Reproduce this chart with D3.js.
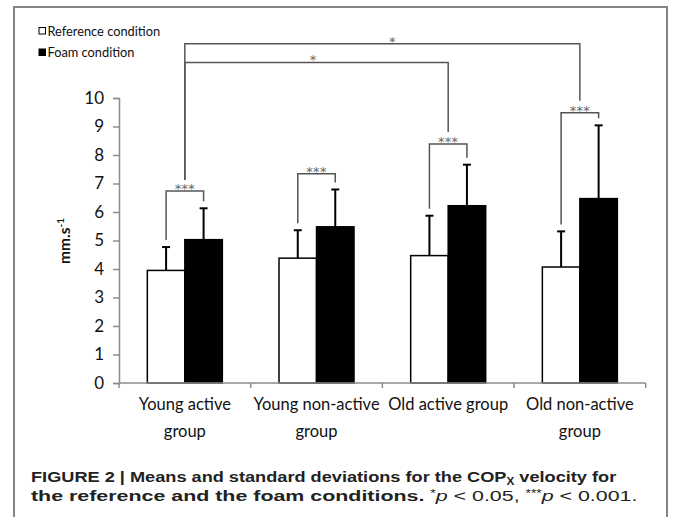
<!DOCTYPE html>
<html>
<head>
<meta charset="utf-8">
<script src="https://cdn.jsdelivr.net/npm/d3@7"></script>
<style>
  html, body { margin: 0; padding: 0; background: #fff; }
  svg { display: block; }
</style>
</head>
<body>
<svg id="chart" width="673" height="517"></svg>
<script>
// ---------- data ----------
const categories = ["Young active group", "Young non-active group", "Old active group", "Old non-active group"];
const categoryLabelLines = [["Young active", "group"], ["Young non-active", "group"], ["Old active group"], ["Old non-active", "group"]];
const seriesNames = ["Reference condition", "Foam condition"];
const referenceMeans = [3.95, 4.38, 4.47, 4.07];
const referenceSD = [0.82, 0.98, 1.40, 1.25];
const foamMeans = [5.03, 5.48, 6.22, 6.47];
const foamSD = [1.10, 1.31, 1.44, 2.57];
const yTicks = [0, 1, 2, 3, 4, 5, 6, 7, 8, 9, 10];
const yLabel = "mm.s";
const yLabelSup = "-1";
// within-group comparisons (reference vs foam), level in data units
const pairStars = ["***", "***", "***", "***"];
const pairLevels = [6.74, 7.34, 8.39, 9.48];
// between-group comparisons
const groupComparisons = [
  { from: 0, to: 3, level: 11.9, label: "*" },
  { from: 0, to: 2, level: 11.25, label: "*" }
];

// ---------- layout ----------
const svg = d3.select("#chart");
const y = d3.scaleLinear().domain([0, 10]).range([383, 98]);
const x = d3.scaleBand().domain(categories).range([119, 645.7]).paddingInner(0).paddingOuter(0);
const bw = x.bandwidth();
const inner = d3.scaleBand().domain(seriesNames).range([bw / 2 - 37.5, bw / 2 + 37.5]);
const barW = inner.bandwidth();

// frame
svg.append("path")
  .attr("d", "M14,520V7H667V520")
  .attr("fill", "none").attr("stroke", "#858585").attr("stroke-width", 2);

// legend
const legend = svg.append("g");
seriesNames.forEach((s, i) => {
  const gy = 27.5 + i * 21.5;
  legend.append("rect").attr("x", 39).attr("y", gy).attr("width", 6.5).attr("height", 6.5)
    .attr("fill", i === 0 ? "#fff" : "#000").attr("stroke", "#000").attr("stroke-width", 1);
  legend.append("text").attr("x", 47.5).attr("y", gy + 8)
    .attr("font-family", "Lato, sans-serif").attr("font-size", 12.8).attr("fill", "#111")
    .text(s);
});

// y axis
const yAxis = svg.append("g").attr("transform", "translate(119,0)")
  .call(d3.axisLeft(y).tickValues(yTicks).tickFormat(d3.format("d")).tickSize(6).tickPadding(9));
yAxis.select(".domain").attr("stroke", "#8c8c8c").attr("stroke-width", 1.5);
yAxis.selectAll(".tick line").attr("stroke", "#8c8c8c").attr("stroke-width", 1.5);
yAxis.selectAll(".tick text").attr("font-family", "Lato, sans-serif").attr("font-size", 17).attr("fill", "#111");

// y label
const yl = svg.append("text")
  .attr("transform", "translate(70,241) rotate(-90)")
  .attr("text-anchor", "middle")
  .attr("font-family", "Lato, sans-serif").attr("font-weight", "bold").attr("font-size", 15.5).attr("fill", "#111");
yl.append("tspan").text(yLabel);
yl.append("tspan").attr("font-size", 10).attr("dy", -6).text(yLabelSup);

// bars
const groups = svg.append("g").selectAll("g").data(categories).join("g")
  .attr("transform", d => `translate(${x(d)},0)`);

const seriesData = [
  { name: seriesNames[0], means: referenceMeans, sd: referenceSD, fill: "#fff" },
  { name: seriesNames[1], means: foamMeans, sd: foamSD, fill: "#000" }
];

groups.each(function (cat, i) {
  const g = d3.select(this);
  seriesData.forEach(s => {
    const bx = inner(s.name);
    const m = s.means[i], e = s.means[i] + s.sd[i];
    const cx = bx + barW / 2;
    g.append("line").attr("x1", cx).attr("x2", cx).attr("y1", y(m)).attr("y2", y(e))
      .attr("stroke", "#000").attr("stroke-width", 2);
    g.append("line").attr("x1", cx - 4).attr("x2", cx + 4).attr("y1", y(e)).attr("y2", y(e))
      .attr("stroke", "#000").attr("stroke-width", 2);
    g.append("rect").attr("x", bx).attr("y", y(m)).attr("width", barW).attr("height", y(0) - y(m))
      .attr("fill", s.fill).attr("stroke", "#000").attr("stroke-width", 1.5);
  });
});

// x axis
const xa = svg.append("g");
xa.append("line").attr("x1", x.range()[0]).attr("x2", x.range()[1]).attr("y1", y(0)).attr("y2", y(0))
  .attr("stroke", "#8c8c8c").attr("stroke-width", 1.5);
const bounds = categories.map(c => x(c)).concat([x.range()[1]]);
xa.selectAll("line.tk").data(bounds).join("line").attr("class", "tk")
  .attr("x1", d => d).attr("x2", d => d).attr("y1", y(0)).attr("y2", y(0) + 5)
  .attr("stroke", "#8c8c8c").attr("stroke-width", 1.5);
categories.forEach((c, i) => {
  const t = xa.append("text").attr("text-anchor", "middle")
    .attr("font-family", "Lato, sans-serif").attr("font-size", 16.5).attr("fill", "#111");
  categoryLabelLines[i].forEach((ln, j) => {
    t.append("tspan").attr("x", x(c) + bw / 2).attr("y", 410 + j * 27).text(ln);
  });
});

// pair brackets
const bracketColor = "#555";
const starFont = "DejaVu Sans, sans-serif";
const pairTop = [];
categories.forEach((c, i) => {
  const x1 = x(c) + inner(seriesNames[0]) + barW / 2;
  const x2 = x(c) + inner(seriesNames[1]) + barW / 2;
  const top = y(pairLevels[i]);
  const l1 = y(referenceMeans[i] + referenceSD[i]) - 7;
  const l2 = y(foamMeans[i] + foamSD[i]) - 7;
  svg.append("path").attr("d", `M${x1},${l1}V${top}H${x2}V${l2}`)
    .attr("fill", "none").attr("stroke", bracketColor).attr("stroke-width", 1.5);
  svg.append("text").attr("x", (x1 + x2) / 2).attr("y", top + 2.5).attr("text-anchor", "middle")
    .attr("font-family", starFont).attr("font-size", 13).attr("fill", "#666")
    .attr("letter-spacing", 0.3).text(pairStars[i]);
  pairTop.push({ cx: (x1 + x2) / 2, top });
});

// between-group brackets
groupComparisons.forEach((gc, k) => {
  const a = pairTop[gc.from], b = pairTop[gc.to];
  const ly = y(gc.level);
  svg.append("path").attr("d", `M${a.cx},${a.top - 11}V${ly}H${b.cx}V${b.top - 12}`)
    .attr("fill", "none").attr("stroke", bracketColor).attr("stroke-width", 1.5);
  const frac = k === 0 ? 0.525 : 0.487;
  svg.append("text").attr("x", a.cx + (b.cx - a.cx) * frac).attr("y", ly + 2).attr("text-anchor", "middle")
    .attr("font-family", starFont).attr("font-size", 13).attr("fill", "#666").text(gc.label);
});

// caption
function fitLine(sel, target) {
  const w = sel.node().getComputedTextLength();
  const tx = +sel.attr("data-x"), ty = +sel.attr("data-y");
  sel.attr("transform", `translate(${tx},${ty}) scale(${target / w},1)`);
}
const cap1 = svg.append("text").attr("data-x", 31).attr("data-y", 482)
  .attr("font-family", "Liberation Sans, Arial, sans-serif").attr("font-size", 15.5).attr("font-weight", "bold").attr("fill", "#222");
cap1.append("tspan").text("FIGURE 2 | Means and standard deviations for the COP");
cap1.append("tspan").attr("font-size", 10).attr("dy", 3).text("X");
cap1.append("tspan").attr("dy", -3).text(" velocity for");
fitLine(cap1, 586);

const cap2 = svg.append("text").attr("data-x", 31).attr("data-y", 501)
  .attr("font-family", "Liberation Sans, Arial, sans-serif").attr("font-size", 15.5).attr("fill", "#222");
cap2.append("tspan").attr("font-weight", "bold").text("the reference and the foam conditions. ");
cap2.append("tspan").attr("font-size", 10).attr("dy", -4).text("*");
cap2.append("tspan").attr("font-style", "italic").attr("dy", 4).text("p");
cap2.append("tspan").text(" < 0.05, ");
cap2.append("tspan").attr("font-size", 10).attr("dy", -4).text("***");
cap2.append("tspan").attr("font-style", "italic").attr("dy", 4).text("p");
cap2.append("tspan").text(" < 0.001.");
fitLine(cap2, 607);
</script>
</body>
</html>
